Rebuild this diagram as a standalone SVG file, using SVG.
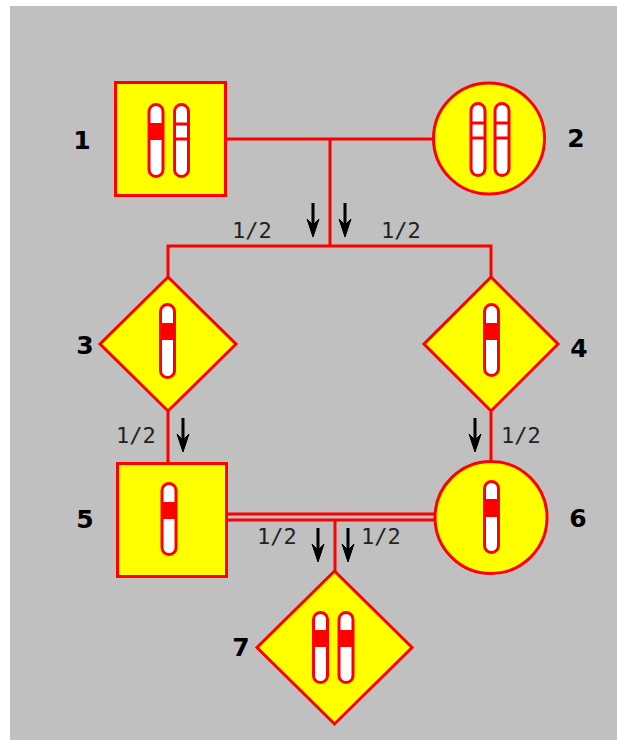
<svg xmlns="http://www.w3.org/2000/svg" xmlns:xlink="http://www.w3.org/1999/xlink" width="617" height="740" viewBox="0 0 617 740">
<style>
.shape{fill:#ffff00;stroke:#ff0000;stroke-width:3}
.chr{fill:#ffffff;stroke:#ff0000;stroke-width:3}
.band{fill:#ff0000}
.bline{stroke:#ff0000;stroke-width:3}
.conn{stroke:#ff0000;stroke-width:3;fill:none}
.num{font-family:"DejaVu Sans",sans-serif;font-weight:bold;font-size:25px;fill:#000;text-anchor:middle}
.frac{font-family:"DejaVu Sans Mono",monospace;font-size:22px;fill:#222}
</style>
<defs>
<g id="arrow">
<line x1="0" y1="0" x2="0" y2="24" stroke="#000" stroke-width="3"/>
<path d="M-6,16 L0,34 L6,16 L0,22 Z" fill="#000" stroke="#000" stroke-width="1"/>
</g>
</defs>
<rect x="10" y="6" width="607" height="734" fill="#c0c0c0"/>

<g id="connectors">
<line class="conn" x1="226" y1="139" x2="433" y2="139"/>
<line class="conn" x1="330" y1="139" x2="330" y2="246"/>
<polyline class="conn" points="168,277 168,246 491,246 491,277"/>
<line class="conn" x1="168" y1="412" x2="168" y2="463"/>
<line class="conn" x1="491" y1="412" x2="491" y2="460"/>
<line class="conn" x1="227" y1="514" x2="436" y2="514"/>
<line class="conn" x1="227" y1="520" x2="436" y2="520"/>
<line class="conn" x1="335" y1="520" x2="335" y2="571"/>
<use xlink:href="#arrow" x="313" y="203"/>
<use xlink:href="#arrow" x="345" y="203"/>
<use xlink:href="#arrow" x="183" y="418"/>
<use xlink:href="#arrow" x="475" y="418"/>
<use xlink:href="#arrow" x="318" y="528"/>
<use xlink:href="#arrow" x="348" y="528"/>
<text class="frac" x="232" y="238">1/2</text>
<text class="frac" x="381" y="238">1/2</text>
<text class="frac" x="116" y="443">1/2</text>
<text class="frac" x="501" y="443">1/2</text>
<text class="frac" x="257" y="544">1/2</text>
<text class="frac" x="361" y="544">1/2</text>
</g>

<g id="node1">
<rect class="shape" x="115.5" y="82.5" width="110" height="113"/>
<rect class="chr" x="149" y="104.5" width="14" height="72" rx="7"/>
<rect class="band" x="149" y="123" width="14" height="17"/>
<rect class="chr" x="174.5" y="104.5" width="14" height="72" rx="7"/>
<line class="bline" x1="174.5" y1="124" x2="188.5" y2="124"/>
<line class="bline" x1="174.5" y1="139" x2="188.5" y2="139"/>
<text class="num" x="82" y="149">1</text>
</g>

<g id="node2">
<circle class="shape" cx="489" cy="138.5" r="55.5"/>
<rect class="chr" x="471" y="103.5" width="14" height="72" rx="7"/>
<line class="bline" x1="471" y1="123" x2="485" y2="123"/>
<line class="bline" x1="471" y1="138" x2="485" y2="138"/>
<rect class="chr" x="495" y="103.5" width="14" height="72" rx="7"/>
<line class="bline" x1="495" y1="123" x2="509" y2="123"/>
<line class="bline" x1="495" y1="138" x2="509" y2="138"/>
<text class="num" x="576" y="147">2</text>
</g>

<g id="node3">
<polygon class="shape" points="168,277 236,344 168,411 100,344"/>
<rect class="chr" x="160.5" y="304.5" width="14" height="73" rx="7"/>
<rect class="band" x="160.5" y="323" width="14" height="17"/>
<text class="num" x="85" y="354">3</text>
</g>

<g id="node4">
<polygon class="shape" points="491,277 558,344 491,411 424,344"/>
<rect class="chr" x="484.5" y="304.5" width="14" height="71" rx="7"/>
<rect class="band" x="484.5" y="323" width="14" height="17"/>
<text class="num" x="579" y="357">4</text>
</g>

<g id="node5">
<rect class="shape" x="117.5" y="463.5" width="109" height="113"/>
<rect class="chr" x="162" y="483.5" width="14" height="71" rx="7"/>
<rect class="band" x="162" y="502" width="14" height="17"/>
<text class="num" x="85" y="528">5</text>
</g>

<g id="node6">
<circle class="shape" cx="491" cy="517.5" r="56"/>
<rect class="chr" x="484.5" y="481.5" width="14" height="71" rx="7"/>
<rect class="band" x="484.5" y="499" width="14" height="18"/>
<text class="num" x="578" y="527">6</text>
</g>

<g id="node7">
<polygon class="shape" points="334.5,571 412,647.5 334.5,724 257,647.5"/>
<rect class="chr" x="313.5" y="612.5" width="14" height="70" rx="7"/>
<rect class="band" x="313.5" y="630" width="14" height="17"/>
<rect class="chr" x="339" y="612.5" width="14" height="70" rx="7"/>
<rect class="band" x="339" y="630" width="14" height="17"/>
<text class="num" x="241" y="656">7</text>
</g>
</svg>
